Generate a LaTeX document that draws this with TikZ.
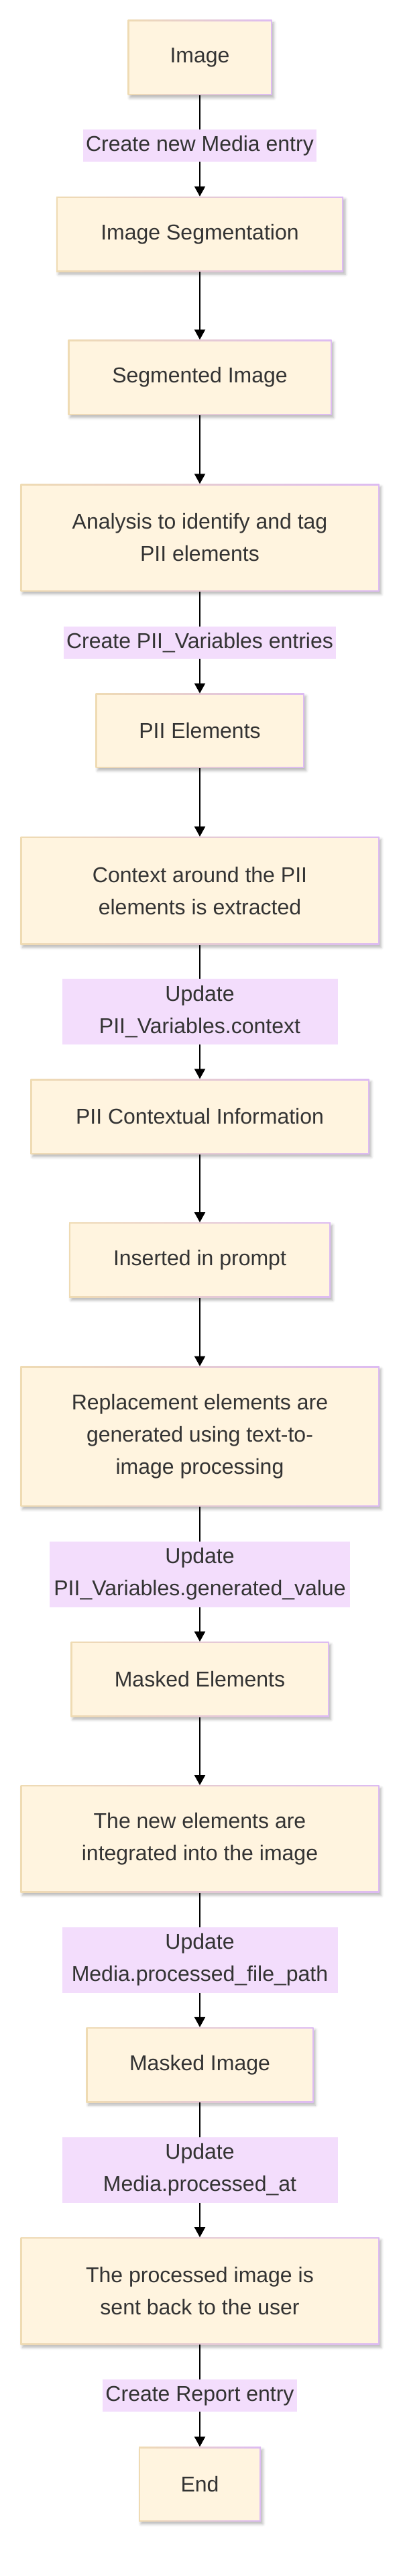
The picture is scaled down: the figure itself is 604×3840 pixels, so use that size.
\documentclass[tikz,border=0pt]{standalone}
\usepackage{fontspec}
\setmainfont{Liberation Sans}
\usetikzlibrary{arrows.meta,shadows.blur}
\definecolor{cream}{HTML}{FFF4DF}
\definecolor{bordL}{HTML}{EFDBB3}
\definecolor{bordR}{HTML}{DDBBF2}
\definecolor{lblfill}{HTML}{F3DDFC}
\definecolor{txt}{HTML}{333333}
\begin{document}
\begin{tikzpicture}[x=1pt,y=-1pt,
  procbox/.style={rectangle, inner sep=0pt, align=center, text=txt,
    font=\fontsize{32}{48}\selectfont,
    left color=bordL, right color=bordR,
    blur shadow={shadow xshift=3pt, shadow yshift=-4pt, shadow blur radius=4pt, shadow opacity=28},
    path picture={\fill[cream] ([shift={(2pt,2pt)}]path picture bounding box.south west) rectangle ([shift={(-2pt,-2pt)}]path picture bounding box.north east);}},
  lbl/.style={rectangle, fill=lblfill, inner ysep=0pt, inner xsep=4.5pt, align=center, text=txt,
    font=\fontsize{32}{48}\selectfont, minimum height=48pt},
  lbltwo/.style={lbl, minimum height=98pt, minimum width=411pt},
  arr/.style={draw=black, line width=2pt, -{Triangle[length=15pt,width=16pt]}}
]
\useasboundingbox (0,0) rectangle (604,3840);

\node[procbox, minimum width=215pt, minimum height=112pt] (img) at (298,86) {Image};
\node[procbox, minimum width=428pt, minimum height=112pt] (seg) at (298,349) {Image Segmentation};
\node[procbox, minimum width=393pt, minimum height=112pt] (segimg) at (298,562.5) {Segmented Image};
\node[procbox, minimum width=535pt, minimum height=160pt] (ana) at (298,801.5) {Analysis to identify and tag\\PII elements};
\node[procbox, minimum width=311pt, minimum height=111pt] (piiel) at (298,1089.3) {PII Elements};
\node[procbox, minimum width=535pt, minimum height=161pt] (ctx) at (298,1327.8) {Context around the PII\\elements is extracted};
\node[procbox, minimum width=505pt, minimum height=112pt] (piictx) at (298,1664.5) {PII Contextual Information};
\node[procbox, minimum width=390pt, minimum height=112pt] (ins) at (298,1878.3) {Inserted in prompt};
\node[procbox, minimum width=535pt, minimum height=209pt] (rep) at (298,2141.3) {Replacement elements are\\generated using text-to-\\image processing};
\node[procbox, minimum width=385pt, minimum height=112pt] (mel) at (298,2503.3) {Masked Elements};
\node[procbox, minimum width=535pt, minimum height=160pt] (newel) at (298,2741.3) {The new elements are\\integrated into the image};
\node[procbox, minimum width=339pt, minimum height=112pt] (mimg) at (298,3078) {Masked Image};
\node[procbox, minimum width=535pt, minimum height=160pt] (proc) at (298,3415.2) {The processed image is\\sent back to the user};
\node[procbox, minimum width=182pt, minimum height=111pt] (endn) at (298,3703) {End};

\draw[arr] (img) -- node[lbl] (l1) {Create new Media entry} (seg);
\draw[arr] (seg) -- (segimg);
\draw[arr] (segimg) -- (ana);
\draw[arr] (ana) -- node[lbl] (l2) {Create PII\_Variables entries} (piiel);
\draw[arr] (piiel) -- (ctx);
\draw[arr] (ctx) -- node[lbltwo] (l3) {Update\\PII\_Variables.context} (piictx);
\draw[arr] (piictx) -- (ins);
\draw[arr] (ins) -- (rep);
\draw[arr] (rep) -- node[lbltwo, minimum width=448pt] (l4) {Update\\PII\_Variables.generated\_value} (mel);
\draw[arr] (mel) -- (newel);
\draw[arr] (newel) -- node[lbltwo] (l5) {Update\\Media.processed\_file\_path} (mimg);
\draw[arr] (mimg) -- node[lbltwo] (l6) {Update\\Media.processed\_at} (proc);
\draw[arr] (proc) -- node[lbl] (l7) {Create Report entry} (endn);
\end{tikzpicture}
\end{document}
